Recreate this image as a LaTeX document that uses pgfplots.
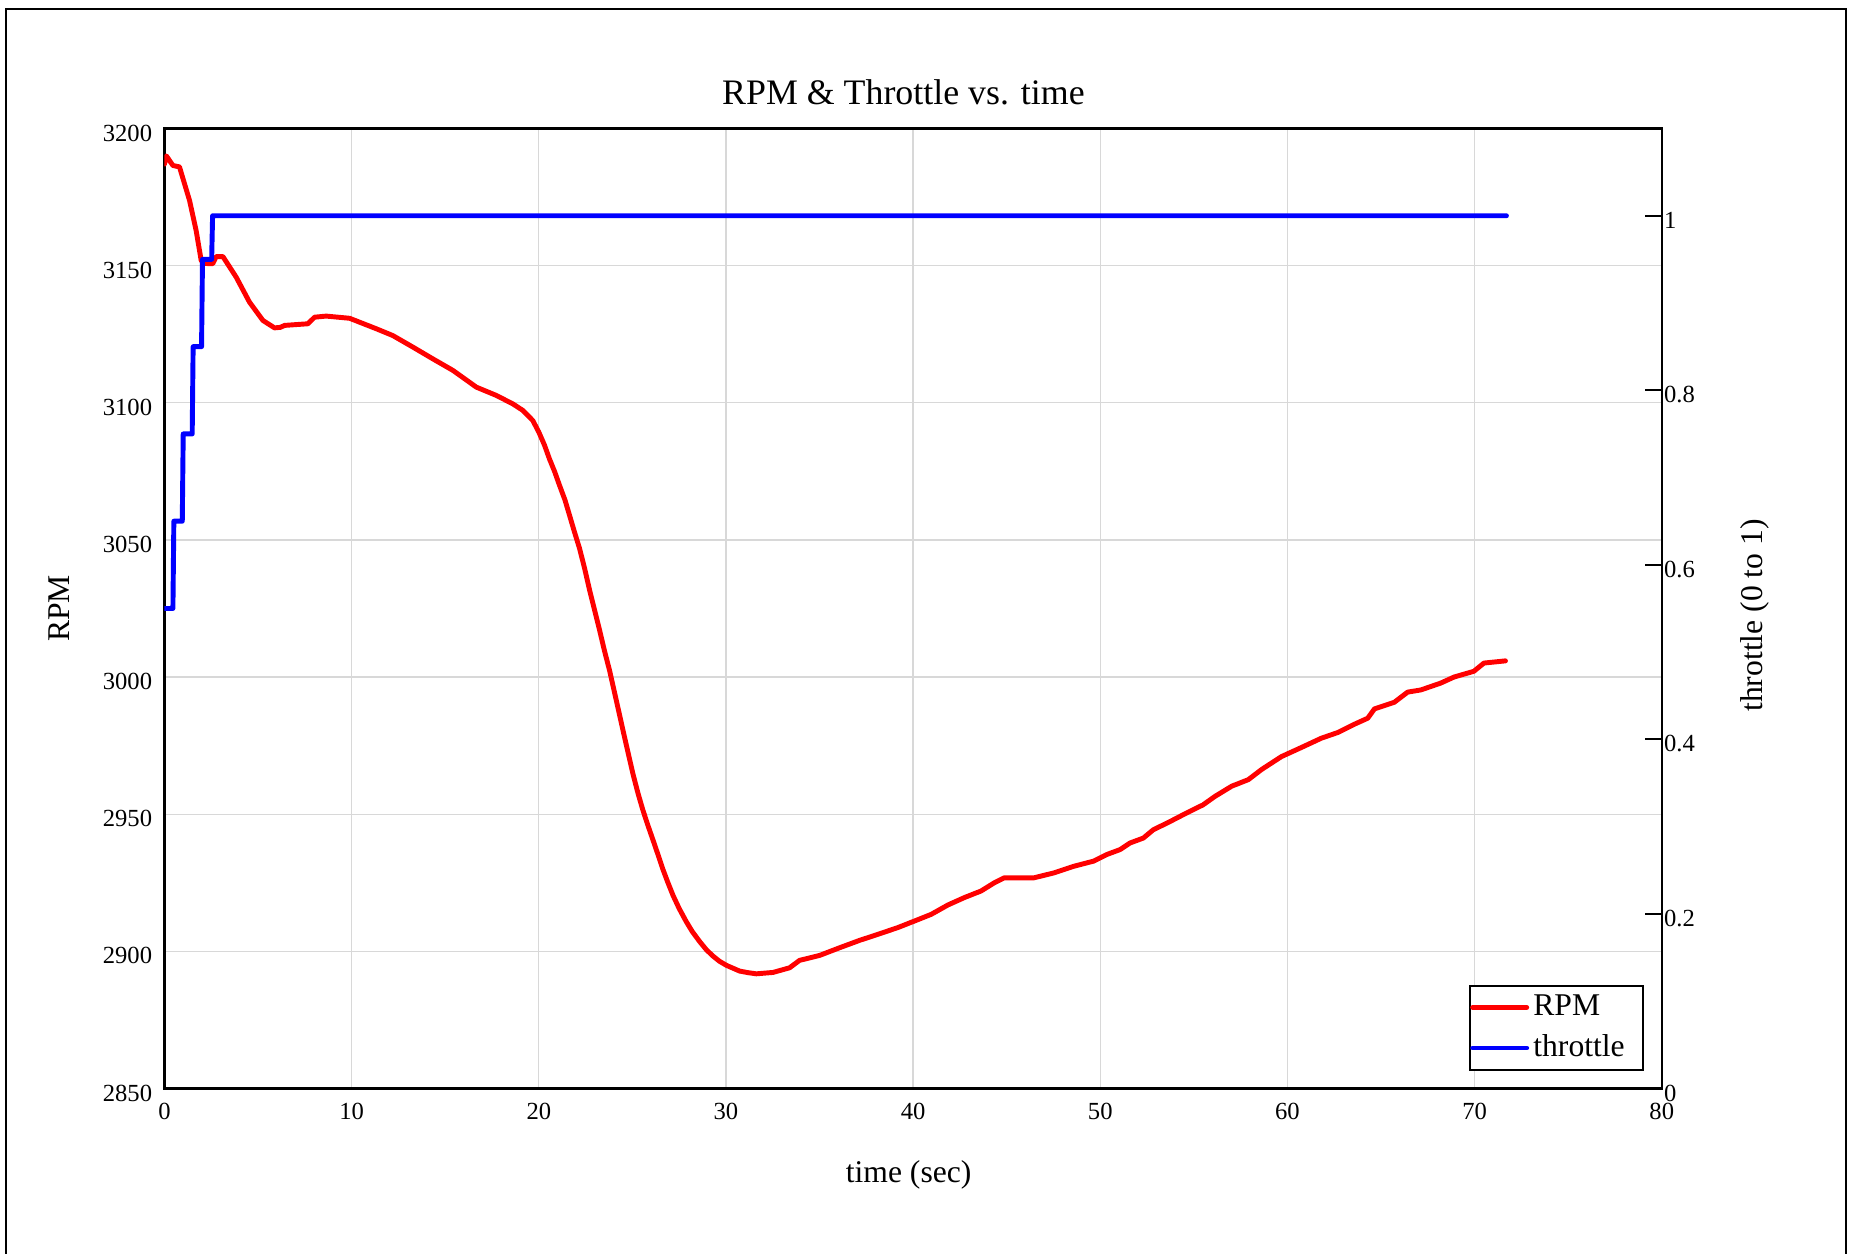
\documentclass[border=0pt]{standalone}
\usepackage{fontspec}
\setmainfont{Liberation Serif}
\usepackage{pgfplots}
\pgfplotsset{compat=1.18}
\definecolor{gridgray}{RGB}{216,216,216}

\pgfplotstableread{
t rpm
0 3187
0.1 3190
0.45 3186.5
0.8 3186
1.34 3173.7
1.69 3162.8
1.96 3151.9
2.1 3150.8
2.58 3150.7
2.76 3153.3
3.12 3153.3
3.83 3145.8
4.54 3136.7
5.26 3130
5.88 3127.3
6.2 3127.5
6.41 3128.2
7.66 3128.8
8.02 3131.2
8.64 3131.6
9.89 3130.8
11.31 3127
12.2 3124.5
13.27 3120.3
14.34 3116
15.41 3111.8
16.66 3105.7
17.72 3102.7
18.61 3099.6
19.15 3097.2
19.68 3093.5
20.0 3089.3
20.3 3084.6
20.57 3079.5
20.85 3074.8
21.1 3070
21.4 3064.5
21.64 3059
21.9 3053
22.18 3046.8
22.45 3039.5
22.71 3031.8
23.25 3017
23.5 3009.8
23.78 3002.4
24.14 2991.5
24.5 2980.5
24.8 2971.5
25.03 2964.7
25.3 2957.6
25.56 2951.5
25.83 2945.9
26.1 2940.6
26.37 2935.2
26.63 2929.9
26.9 2925
27.17 2920.4
27.5 2915.6
27.88 2910.8
28.2 2907.2
28.59 2903.6
28.95 2900.6
29.3 2898.3
29.65 2896.4
30.02 2894.9
30.73 2892.8
31.2 2892.2
31.62 2891.8
32.51 2892.3
33.4 2894
33.93 2896.7
35 2898.5
36.07 2901.3
37.14 2904
38.21 2906.4
39.2 2908.7
40.09 2911.1
40.97 2913.5
41.86 2916.9
42.74 2919.6
43.63 2922
44.34 2925
44.87 2926.8
46.46 2926.8
47.52 2928.6
48.58 2931
49.65 2932.9
50.35 2935.3
51.06 2937.1
51.59 2939.5
52.3 2941.3
52.83 2944.3
53.72 2947.3
54.6 2950.4
55.49 2953.4
56.13 2956.5
57.02 2960.2
57.91 2962.6
58.62 2966.3
59.68 2971
60.74 2974.3
61.81 2977.7
62.7 2979.8
63.58 2982.8
64.29 2985
64.65 2988.4
65.71 2990.8
66.42 2994.5
67.13 2995.3
68.19 2997.8
68.9 3000
69.96 3002.1
70.5 3005.1
71.65 3005.9
}\rpmdata

\pgfplotstableread{
t thr
0 0.55
0.45 0.55
0.5 0.65
0.95 0.65
1.0 0.75
1.48 0.75
1.53 0.85
1.98 0.85
2.03 0.95
2.52 0.95
2.57 1
71.7 1
}\thrdata

\pgfplotsset{
  twin/.style={
    at={(16.45mm,16.55mm)}, anchor=south west,
    scale only axis, width=149.73mm, height=96mm,
    xmin=0, xmax=80,
    axis line style={line width=0.65pt},
    tick label style={font=\fontsize{7}{8}\selectfont},
    label style={font=\fontsize{9}{11}\selectfont},
    /pgf/number format/assume math mode=true,
    /pgf/number format/1000 sep={},
  },
}

\begin{document}
\begin{tikzpicture}
\useasboundingbox (0,0) rectangle (184.9mm,125.4mm);
\draw[line width=0.65pt] (0.63mm,-5mm) rectangle (184.58mm,124.5mm);

\begin{axis}[
  twin,
  ymin=2850, ymax=3200,
  xtick={0,10,...,80},
  ytick={2850,2900,...,3200},
  xtick pos=bottom, ytick pos=left,
  major tick length=0pt,
  grid=major,
  major grid style={gridgray, line width=0.37pt},
  xticklabel style={yshift=-0.25mm},
  yticklabel style={yshift=-0.45mm},
  title={RPM \& Throttle vs. time},
  every axis title shift=0pt,
  title style={at={(axis description cs:0.4935,1.0245)}, anchor=base,
    font=\fontsize{10.2}{12}\selectfont},
  xlabel={time (sec)},
  xlabel style={at={(axis description cs:0.497,-0.0984)}, anchor=base},
  ylabel={RPM},
  ylabel style={at={(axis description cs:-0.0635,0.5)}, anchor=base},
]
\addplot[red, line width=1.4pt, line join=round, line cap=round] table[x=t, y=rpm] {\rpmdata};
\end{axis}

\begin{axis}[
  twin,
  ymin=0, ymax=1.1,
  axis x line=none, axis y line*=right,
  ytick={0,0.2,0.4,0.6,0.8,1},
  tick align=inside, major tick length=1.7mm,
  ytick style={black, line width=0.6pt},
  yticklabel style={xshift=-1.0mm, yshift=-0.45mm},
  ylabel={throttle (0 to 1)},
  ylabel style={at={(axis description cs:1.0676,0.4927)}, anchor=base},
  legend style={at={(axis description cs:1,0)}, anchor=south east,
    xshift=-1.78mm, yshift=1.78mm, draw=black, line width=0.55pt,
    font=\fontsize{9}{11}\selectfont,
    inner xsep=0pt, inner ysep=0.3pt,
    nodes={inner xsep=1.2pt, inner ysep=2pt}},
  legend cell align=left,
  legend image code/.code={\draw[#1] (0mm,0mm) -- (5.4mm,0mm);},
]
\addlegendimage{red, line width=1.4pt, line cap=round}
\addlegendentry{RPM}
\addplot[blue, line width=1.4pt, line join=round, line cap=round] table[x=t, y=thr] {\thrdata};
\addlegendentry{throttle\kern4pt}
\end{axis}
\end{tikzpicture}
\end{document}
